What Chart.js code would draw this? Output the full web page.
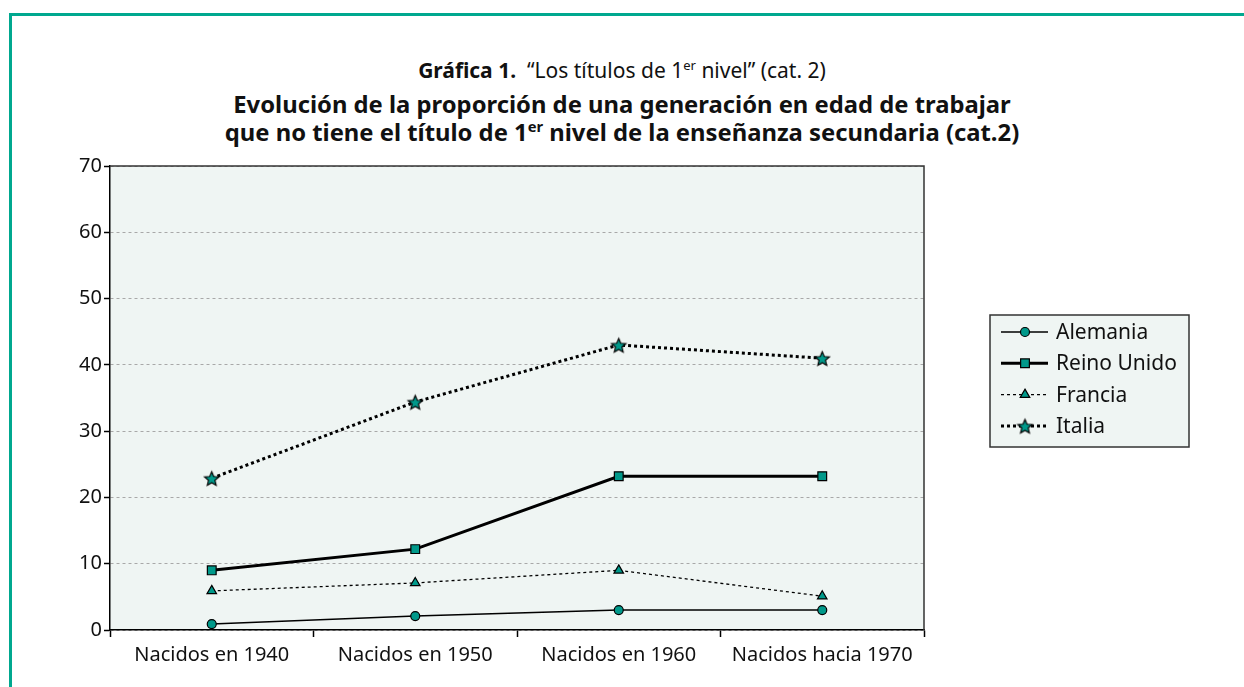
<!DOCTYPE html>
<html>
<head>
<meta charset="utf-8">
<script src="https://cdn.jsdelivr.net/npm/chart.js@4/dist/chart.umd.min.js"></script>
<style>
  body { margin: 0; background: #fff; }
  #wrap { position: relative; width: 1244px; height: 687px; overflow: hidden; }
  #frame { position: absolute; left: 9px; top: 13px; right: -5px; bottom: -5px;
           border-top: 3px solid #00a88f; border-left: 3px solid #00a88f; }
  .t { position: absolute; left: 0; width: 1244px; text-align: center; color: #111;
       font-family: "Noto Sans", "DejaVu Sans", sans-serif; white-space: nowrap; line-height: 1; }
  .t b { font-weight: bold; }
  sup { font-size: 0.62em; vertical-align: 0.6em; line-height: 0; }
  canvas { position: absolute; left: 0; top: 0; }
</style>
</head>
<body>
<div id="wrap">
  <div id="frame"></div>
  <div class="t" style="top:60px; font-size:21px"><b>Gráfica 1.</b>&nbsp; “Los títulos de 1<sup>er</sup> nivel” (cat. 2)</div>
  <div class="t" style="top:93px; font-size:23.8px; font-weight:bold">Evolución de la proporción de una generación en edad de trabajar</div>
  <div class="t" style="top:121px; font-size:23.8px; font-weight:bold">que no tiene el título de 1<sup>er</sup> nivel de la enseñanza secundaria (cat.2)</div>
  <canvas id="chart" width="1244" height="687"></canvas>
</div>
<script>
const categories = ['Nacidos en 1940', 'Nacidos en 1950', 'Nacidos en 1960', 'Nacidos hacia 1970'];
const alemania = [0.9, 2.1, 3.0, 3.0];
const reinoUnido = [9.0, 12.2, 23.2, 23.2];
const francia = [5.9, 7.1, 9.0, 5.1];
const italia = [22.9, 34.4, 43.0, 41.0];
const yTicks = [0, 10, 20, 30, 40, 50, 60, 70];

const teal = '#00998a';
const fontFamily = '"Noto Sans", "DejaVu Sans", sans-serif';
const tickFont = { family: fontFamily, size: 20 };

// filled star marker (Chart.js 'star' is only an asterisk)
function makeStar(r) {
  const c = document.createElement('canvas');
  const s = Math.ceil(r * 2 + 4);
  c.width = s; c.height = s;
  const g = c.getContext('2d');
  g.beginPath();
  for (let i = 0; i < 10; i++) {
    const rad = i % 2 === 0 ? r : r * 0.45;
    const a = -Math.PI / 2 + i * Math.PI / 5;
    const px = s / 2 + rad * Math.cos(a), py = s / 2 + 1 + rad * Math.sin(a);
    if (i === 0) g.moveTo(px, py); else g.lineTo(px, py);
  }
  g.closePath();
  g.fillStyle = teal;
  g.fill();
  g.lineWidth = 1.2;
  g.strokeStyle = '#000';
  g.stroke();
  return c;
}
const starImg = makeStar(7.5);

const plotBg = {
  id: 'plotBg',
  beforeDraw(chart) {
    const { ctx, chartArea: a } = chart;
    ctx.save();
    ctx.fillStyle = '#eff5f3';
    ctx.fillRect(a.left, a.top, a.right - a.left, a.bottom - a.top);
    ctx.restore();
  },
  beforeDatasetsDraw(chart) {
    const { ctx, chartArea: a } = chart;
    ctx.save();
    ctx.strokeStyle = '#333';
    ctx.lineWidth = 1.5;
    ctx.beginPath();
    ctx.moveTo(a.left, a.top);
    ctx.lineTo(a.right, a.top);
    ctx.lineTo(a.right, a.bottom);
    ctx.stroke();
    ctx.restore();
  }
};

const boxLegend = {
  id: 'boxLegend',
  afterDraw(chart) {
    const ctx = chart.ctx;
    const x0 = 990, y0 = 315, w = 199, h = 132;
    ctx.save();
    ctx.fillStyle = '#eff5f3';
    ctx.fillRect(x0, y0, w, h);
    ctx.strokeStyle = '#333';
    ctx.lineWidth = 1.5;
    ctx.strokeRect(x0, y0, w, h);
    chart.data.datasets.forEach((ds, i) => {
      const y = y0 + 17 + i * 31.3;
      ctx.beginPath();
      ctx.setLineDash(ds.borderDash || []);
      ctx.lineWidth = ds.borderWidth;
      ctx.strokeStyle = ds.borderColor;
      ctx.moveTo(x0 + 11, y);
      ctx.lineTo(x0 + 58, y);
      ctx.stroke();
      ctx.setLineDash([]);
      ctx.fillStyle = ds.pointBackgroundColor;
      ctx.strokeStyle = ds.pointBorderColor;
      ctx.lineWidth = ds.pointBorderWidth;
      Chart.helpers.drawPoint(ctx, { pointStyle: ds.pointStyle, radius: ds.pointRadius, rotation: 0, borderWidth: ds.pointBorderWidth }, x0 + 35, y);
      ctx.fillStyle = '#111';
      ctx.font = '21px ' + fontFamily;
      ctx.textBaseline = 'middle';
      ctx.fillText(ds.label, x0 + 66, y + 1);
    });
    ctx.restore();
  }
};

const common = { pointBackgroundColor: teal, pointBorderColor: '#000', pointBorderWidth: 1.2, fill: false, tension: 0 };

new Chart(document.getElementById('chart').getContext('2d'), {
  type: 'line',
  data: {
    labels: categories,
    datasets: [
      { ...common, label: 'Alemania', data: alemania, borderColor: '#000', borderWidth: 1.5, pointStyle: 'circle', pointRadius: 4.5 },
      { ...common, label: 'Reino Unido', data: reinoUnido, borderColor: '#000', borderWidth: 3, pointStyle: 'rect', pointRadius: 6.2 },
      { ...common, label: 'Francia', data: francia, borderColor: '#000', borderWidth: 1.3, borderDash: [3, 3], pointStyle: 'triangle', pointRadius: 5.5 },
      { ...common, label: 'Italia', data: italia, borderColor: '#000', borderWidth: 3, borderDash: [3, 3], pointStyle: starImg, pointRadius: 8 }
    ]
  },
  options: {
    responsive: false,
    animation: false,
    layout: { padding: { left: 20, right: 320, top: 166, bottom: 0 } },
    plugins: { legend: { display: false }, title: { display: false }, tooltip: { enabled: false } },
    elements: { point: { hoverRadius: 6 } },
    scales: {
      x: {
        offset: true,
        grid: { offset: true, drawOnChartArea: false, tickLength: 7, tickColor: '#000', tickWidth: 1.5 },
        border: { color: '#000', width: 1.5 },
        ticks: { color: '#111', font: tickFont, padding: 6, maxRotation: 0 },
        afterFit(scale) { scale.height = 57; }
      },
      y: {
        min: 0,
        max: 70,
        afterBuildTicks(scale) { scale.ticks = yTicks.map(v => ({ value: v })); },
        grid: { color: '#a8a8a8', lineWidth: 1, tickLength: 6, tickColor: '#000', tickWidth: 1.5, tickBorderDash: [] },
        border: { color: '#000', width: 1.5, dash: [3, 3] },
        ticks: { color: '#111', font: tickFont, padding: 2 },
        afterFit(scale) { scale.width = 90; }
      }
    }
  },
  plugins: [plotBg, boxLegend]
});
</script>
</body>
</html>
